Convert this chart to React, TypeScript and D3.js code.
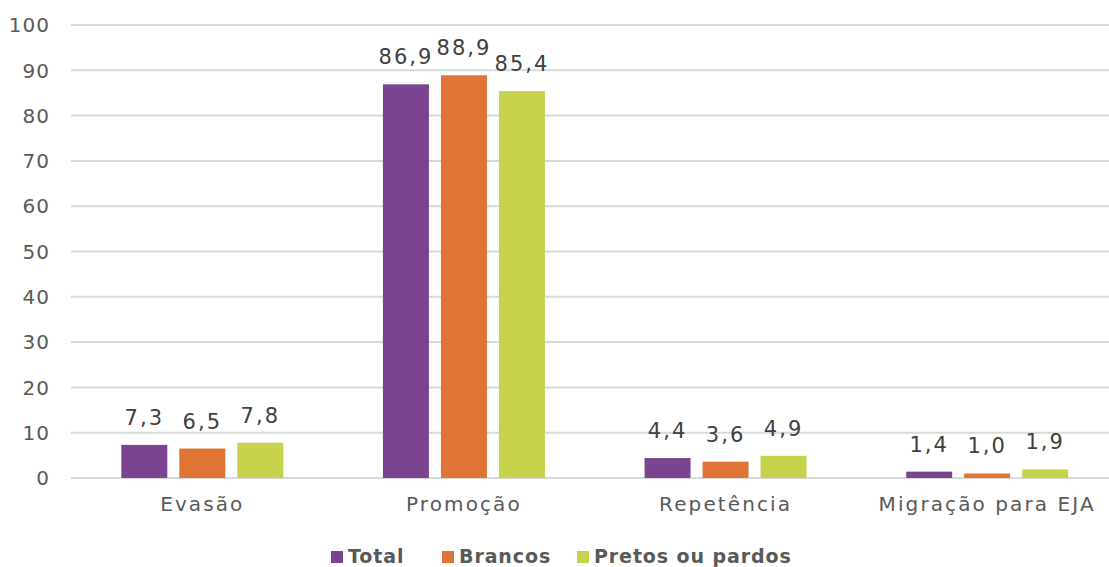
import React from "react";
import * as d3 from "d3";

const categories = ["Evasão", "Promoção", "Repetência", "Migração para EJA"];
const seriesNames = ["Total", "Brancos", "Pretos ou pardos"];
const totalValues = [7.3, 86.9, 4.4, 1.4];
const brancosValues = [6.5, 88.9, 3.6, 1.0];
const pretosValues = [7.8, 85.4, 4.9, 1.9];
const yTicks = [0, 10, 20, 30, 40, 50, 60, 70, 80, 90, 100];
const colors = ["#7B4491", "#DF7435", "#C5D24A"];

const W = 1109;
const H = 567;
const FONT = "'DejaVu Sans', sans-serif";

export default function App() {
  const series = [totalValues, brancosValues, pretosValues];
  const x = d3.scaleBand<string>().domain(categories).range([71.5, 1118]);
  const y = d3.scaleLinear().domain([0, 100]).range([478, 25]);
  const barW = 46;
  const gap = 12;
  const groupW = barW * 3 + gap * 2;
  const fmt = (v: number) => v.toFixed(1).replace(".", ",");

  const legendX = [331, 442, 577];

  return (
    <svg width={W} height={H} style={{ display: "block", position: "absolute", left: 0, top: 0 }}>
      <rect width={W} height={H} fill="#ffffff" />
      {yTicks.map((t) => (
        <g key={t}>
          <line x1={71} x2={W} y1={y(t)} y2={y(t)} stroke="#D9D9D9" strokeWidth={2} />
          <text
            x={50}
            y={y(t)}
            dy="0.36em"
            textAnchor="end"
            fontFamily={FONT}
            fontSize={20}
            letterSpacing={1}
            fill="#595959"
          >
            {t}
          </text>
        </g>
      ))}
      {categories.map((c, i) => {
        const cx = (x(c) ?? 0) + x.bandwidth() / 2;
        const start = cx - groupW / 2;
        return (
          <g key={c}>
            {series.map((vals, s) => {
              const bx = start + s * (barW + gap);
              const v = vals[i];
              return (
                <g key={s}>
                  <rect
                    x={bx}
                    y={y(v)}
                    width={barW}
                    height={y(0) - y(v)}
                    fill={colors[s]}
                  />
                  <text
                    x={bx + barW / 2}
                    y={y(v) - 20}
                    textAnchor="middle"
                    fontFamily={FONT}
                    fontSize={21}
                    letterSpacing={2}
                    fill="#404040"
                  >
                    {fmt(v)}
                  </text>
                </g>
              );
            })}
            <text
              x={cx}
              y={511}
              textAnchor="middle"
              fontFamily={FONT}
              fontSize={20}
              letterSpacing={2.1}
              fill="#595959"
            >
              {c}
            </text>
          </g>
        );
      })}
      {seriesNames.map((n, s) => (
        <g key={n}>
          <rect x={legendX[s]} y={551} width={12} height={12} fill={colors[s]} />
          <text
            x={legendX[s] + 17}
            y={563}
            fontFamily={FONT}
            fontSize={19}
            fontWeight="bold"
            letterSpacing={0.9}
            fill="#595959"
          >
            {n}
          </text>
        </g>
      ))}
    </svg>
  );
}
